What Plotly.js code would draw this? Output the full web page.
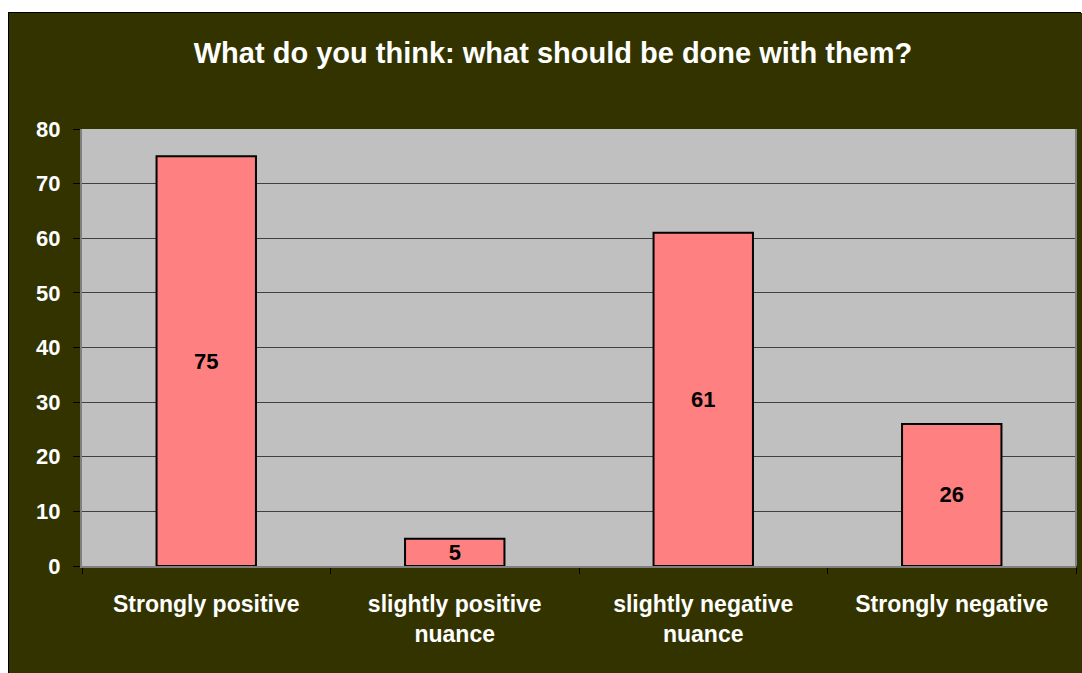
<!DOCTYPE html>
<html>
<head>
<meta charset="utf-8">
<script src="https://cdn.plot.ly/plotly-3.0.1.min.js"></script>
<style>
html,body{margin:0;padding:0;background:#ffffff;width:1082px;height:673px;overflow:hidden;}
#chart{position:absolute;left:8px;top:12px;width:1072px;height:661px;border:1px solid #000;border-bottom:none;border-right:none;}
</style>
</head>
<body>
<div id="chart"></div>
<script>
const categories = ["Strongly positive", "slightly positive<br>nuance", "slightly negative<br>nuance", "Strongly negative"];
const values = [75, 5, 61, 26];
const yTicks = [0, 10, 20, 30, 40, 50, 60, 70, 80];

const FONT = "Liberation Sans, Arial, sans-serif";

const trace = {
  type: "bar",
  x: categories,
  y: values,
  text: values.map(String),
  textposition: "inside",
  insidetextanchor: "middle",
  textangle: 0,
  constraintext: "none",
  textfont: {family: FONT, size: 22, color: "#000000", weight: "bold"},
  marker: {color: "#FF8080", line: {color: "#000000", width: 2}},
  width: 0.4,
  hoverinfo: "skip"
};

const layout = {
  width: 1073, height: 661,
  margin: {l: 73, r: 6, t: 116, b: 108},
  paper_bgcolor: "#333300",
  plot_bgcolor: "#C0C0C0",
  showlegend: false,
  title: {
    text: "<b>What do you think: what should be done with them?</b>",
    font: {family: FONT, size: 29, color: "#ffffff"},
    x: 0.507, xanchor: "center", y: 1 - 40/661, yanchor: "middle"
  },
  xaxis: {
    type: "category",
    tickson: "boundaries",
    ticks: "outside", ticklen: 6, tickcolor: "#000000", tickwidth: 1,
    ticklabelstandoff: 16,
    showgrid: false,
    showline: true, linecolor: "#808080", linewidth: 2,
    tickfont: {family: FONT, size: 23, color: "#ffffff", weight: "bold"},
    fixedrange: true
  },
  yaxis: {
    range: [0, 80],
    tickvals: yTicks,
    ticktext: yTicks.map(String),
    ticks: "outside", ticklen: 7, tickcolor: "#000000", tickwidth: 1,
    ticklabelstandoff: 8,
    showgrid: true, gridcolor: "#404040", gridwidth: 1,
    showline: true, linecolor: "#808080", linewidth: 2,
    zeroline: false,
    tickfont: {family: FONT, size: 22, color: "#ffffff", weight: "bold"},
    fixedrange: true
  },
  shapes: [{type: "line", xref: "paper", yref: "paper", x0: 1, x1: 1, y0: 0, y1: 1, line: {color: "#808080", width: 2}}]
};

Plotly.newPlot("chart", [trace], layout, {displayModeBar: false, staticPlot: true});
</script>
</body>
</html>
